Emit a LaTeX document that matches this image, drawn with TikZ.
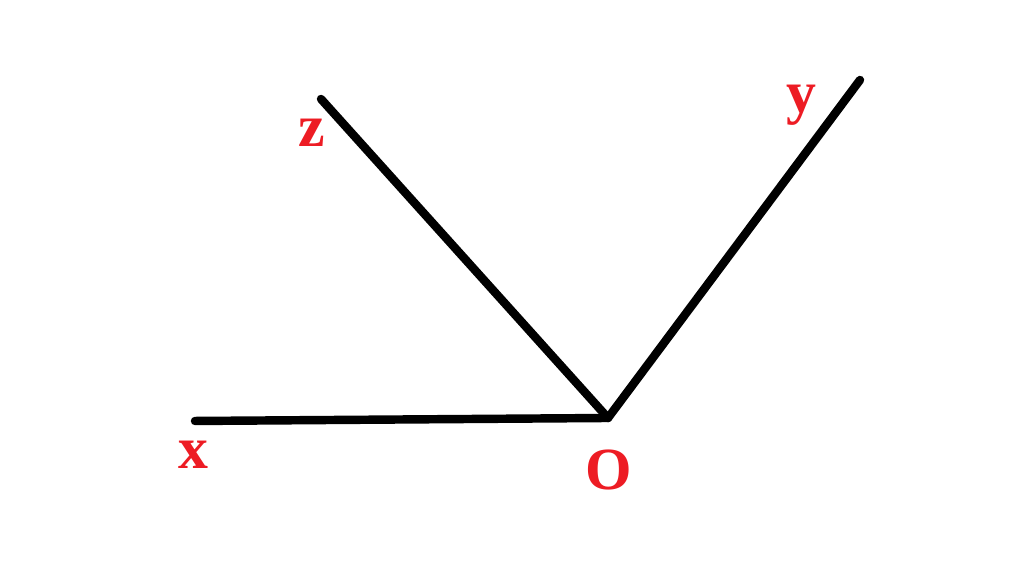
\documentclass[tikz,border=0pt]{standalone}
\usepackage{fontspec}
\setmainfont{Liberation Serif}
\usepackage{tikz}
\definecolor{paintred}{HTML}{ED1C24}

\begin{document}
\begin{tikzpicture}[x=0.01cm, y=0.01cm]
  \tikzset{
    axis/.style={line width=2.4pt, line cap=round},
    axislabel/.style={text=paintred, font=\fontsize{17}{17}\selectfont\bfseries, inner sep=0pt},
  }
  \useasboundingbox (0,0) rectangle (1024,565);

  % Nodes
  \coordinate (O) at (608,147);
  \coordinate (x) at (195,144);
  \coordinate (z) at (321,466);
  \coordinate (y) at (860,485);
  \node[axislabel] (Olabel) at (609,95) {O};
  \node[axislabel] (xlabel) at (193,110) {x};
  \node[axislabel] (zlabel) at (312,432) {z};
  \node[axislabel] (ylabel) at (801,460) {y};

  % Axes
  \draw[axis] (x) -- (O);
  \draw[axis] (z) -- (O);
  \draw[axis] (y) -- (O);

\end{tikzpicture}
\end{document}
